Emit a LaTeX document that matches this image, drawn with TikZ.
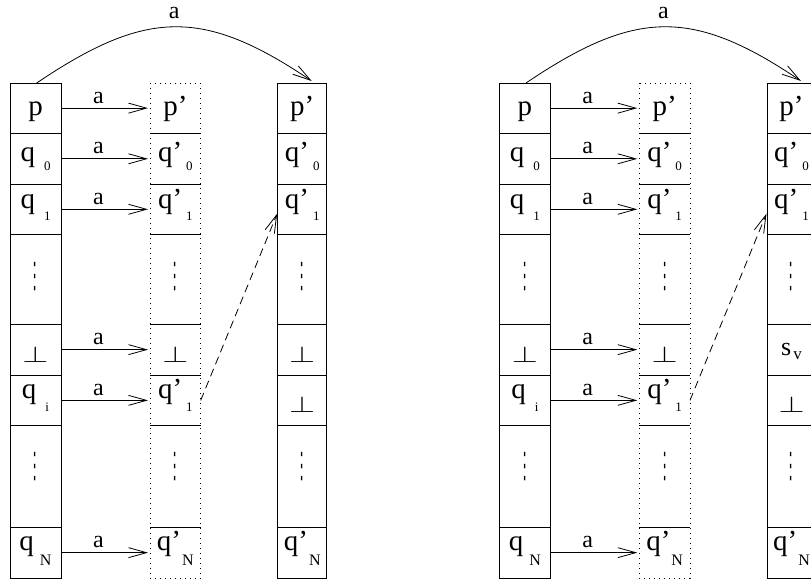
\documentclass[tikz,border=0pt]{standalone}
\usepackage{fontspec}
\setmainfont{Liberation Serif}
\newfontfamily\symfont{DejaVu Sans}
\usepackage{graphicx}
\usetikzlibrary{arrows.meta,calc}

% type sizes
\newcommand\mainsz{\fontsize{29}{29}\selectfont}
\newcommand\lblsz{\fontsize{24}{24}\selectfont}
\newcommand\subsz{\fontsize{13}{13}\selectfont}
\newcommand\bigsubsz{\fontsize{16}{16}\selectfont}
% letter followed by a lowered subscript: #1 letter, #2 subscript, #3 gap, #4 drop
\newcommand\qs[4]{#1\hspace{#3}\raisebox{-#4}{#2}}
\newcommand\perpsym{\resizebox{26pt}{16pt}{$\perp$}}
\newcommand\vdotsym{\scalebox{0.6}[1.6]{\fontsize{22}{22}\symfont ⋮}}

\tikzset{
  cellbox/.style={draw, line width=0.8pt, rectangle, inner sep=0pt, outer sep=0pt},
  cellspot/.style={rectangle, inner sep=0pt, outer sep=0pt},
  sepline/.style={line width=0.8pt},
  dotbox/.style={line width=0.9pt, dash pattern=on 1.1pt off 3.9pt},
  txt/.style={inner sep=0pt, outer sep=0pt, anchor=base, font=\mainsz},
  dotstxt/.style={inner sep=0pt, outer sep=0pt, anchor=center},
  lbl/.style={inner sep=0pt, outer sep=0pt, anchor=base, font=\lblsz,
              text height=11pt, text depth=0pt},
  trans/.style={line width=0.8pt, -{Straight Barb[length=18pt, width=10pt, line width=0.8pt]}},
  moved/.style={trans, dash pattern=on 8pt off 5pt},
}

% one stack diagram: #1 name prefix, #2 horizontal offset, #3 fifth entry of the last column
\newcommand\stackdiagram[3]{%
\begin{scope}[xshift=#2pt]
  \foreach \i/\t/\h in {1/83/50.3, 2/133.3/51, 3/184.3/50, 4/234.3/90,
                        5/324.3/50.7, 6/375/50.7, 7/425.7/101.6, 8/527.3/50.7}{
    \node[cellbox, minimum width=51pt, minimum height=\h pt, anchor=north west] (#1a\i) at (10,\t) {};
    \node[cellspot, minimum width=50.7pt, minimum height=\h pt, anchor=north west] (#1b\i) at (150,\t) {};
    \node[cellbox, minimum width=49pt, minimum height=\h pt, anchor=north west] (#1c\i) at (277.7,\t) {};
  }
  % middle column: dotted outline, solid separators
  \draw[dotbox] (#1b1.north west) rectangle (#1b8.south east);
  \foreach \i in {1,...,7}{
    \draw[sepline] (#1b\i.south west) -- (#1b\i.south east);
  }
  % first column
  \node[txt] (#1a1t) at ($(#1a1.north)+(0,33)$) {p};
  \node[txt] (#1a2t) at ($(#1a2.north)+(0,28)$) {\qs{q}{\subsz 0}{9pt}{9pt}};
  \node[txt] (#1a3t) at ($(#1a3.north)+(0,24)$) {\qs{q}{\subsz 1}{9pt}{12pt}};
  \node[dotstxt] (#1a4t) at ($(#1a4.north)+(0,42)$) {\vdotsym};
  \node[txt] (#1a5t) at ($(#1a5.north)+(0,37.7)$) {\perpsym};
  \node[txt] (#1a6t) at ($(#1a6.north)+(0,23.5)$) {\qs{q}{\subsz i}{9pt}{13pt}};
  \node[dotstxt] (#1a7t) at ($(#1a7.north)+(0,41)$) {\vdotsym};
  \node[txt] (#1a8t) at ($(#1a8.north)+(0,23)$) {\qs{q}{\bigsubsz N}{6pt}{15pt}};
  % middle column
  \node[txt] (#1b1t) at ($(#1b1.north)+(0,33)$) {p’};
  \node[txt] (#1b2t) at ($(#1b2.north)+(0,28)$) {\qs{q’}{\subsz 0}{4pt}{9pt}};
  \node[txt] (#1b3t) at ($(#1b3.north)+(0,24)$) {\qs{q’}{\subsz 1}{4pt}{12pt}};
  \node[dotstxt] (#1b4t) at ($(#1b4.north)+(0,42)$) {\vdotsym};
  \node[txt] (#1b5t) at ($(#1b5.north)+(0,37.7)$) {\perpsym};
  \node[txt] (#1b6t) at ($(#1b6.north)+(0,23.5)$) {\qs{q’}{\subsz 1}{4pt}{13pt}};
  \node[dotstxt] (#1b7t) at ($(#1b7.north)+(0,41)$) {\vdotsym};
  \node[txt] (#1b8t) at ($(#1b8.north)+(0,23)$) {\qs{q’}{\bigsubsz N}{1pt}{15pt}};
  % last column
  \node[txt] (#1c1t) at ($(#1c1.north)+(0,33)$) {p’};
  \node[txt] (#1c2t) at ($(#1c2.north)+(0,28)$) {\qs{q’}{\subsz 0}{4pt}{9pt}};
  \node[txt] (#1c3t) at ($(#1c3.north)+(0,24)$) {\qs{q’}{\subsz 1}{4pt}{12pt}};
  \node[dotstxt] (#1c4t) at ($(#1c4.north)+(0,42)$) {\vdotsym};
  #3
  \node[txt] (#1c6t) at ($(#1c6.north)+(0,37.7)$) {\perpsym};
  \node[dotstxt] (#1c7t) at ($(#1c7.north)+(0,41)$) {\vdotsym};
  \node[txt] (#1c8t) at ($(#1c8.north)+(0,23)$) {\qs{q’}{\bigsubsz N}{1pt}{15pt}};
  % transitions
  \foreach \i in {1,2,3,5,6,8}{
    \draw[trans, shorten >=2pt] (#1a\i.east) -- node[lbl, pos=0.42, yshift=5pt] {a} (#1b\i.west);
  }
  \draw[trans] ([xshift=1.2pt]#1a1.north)
    to[out=34, in=146, looseness=1.22] node[lbl, midway, yshift=8pt] {a}
    ([xshift=9.5pt, yshift=2pt]#1c1.north);
  \draw[moved, shorten >=1.5pt] (#1b6.east) -- ([yshift=-3pt]#1c3.west);
\end{scope}}

\begin{document}
\begin{tikzpicture}[x=1pt, y=-1pt]
  \useasboundingbox (0,0) rectangle (811,583);
  \clip (0,0) rectangle (811,583);
  \stackdiagram{L}{0}{\node[txt] (Lc5t) at ($(Lc5.north)+(0,37.7)$) {\perpsym};}
  \stackdiagram{R}{489.3}{\node[txt] (Rc5t) at ($(Rc5.north)+(0,31)$) {\qs{\fontsize{26}{26}\selectfont s}{\fontsize{17}{17}\selectfont v}{2pt}{4pt}};}
\end{tikzpicture}
\end{document}
